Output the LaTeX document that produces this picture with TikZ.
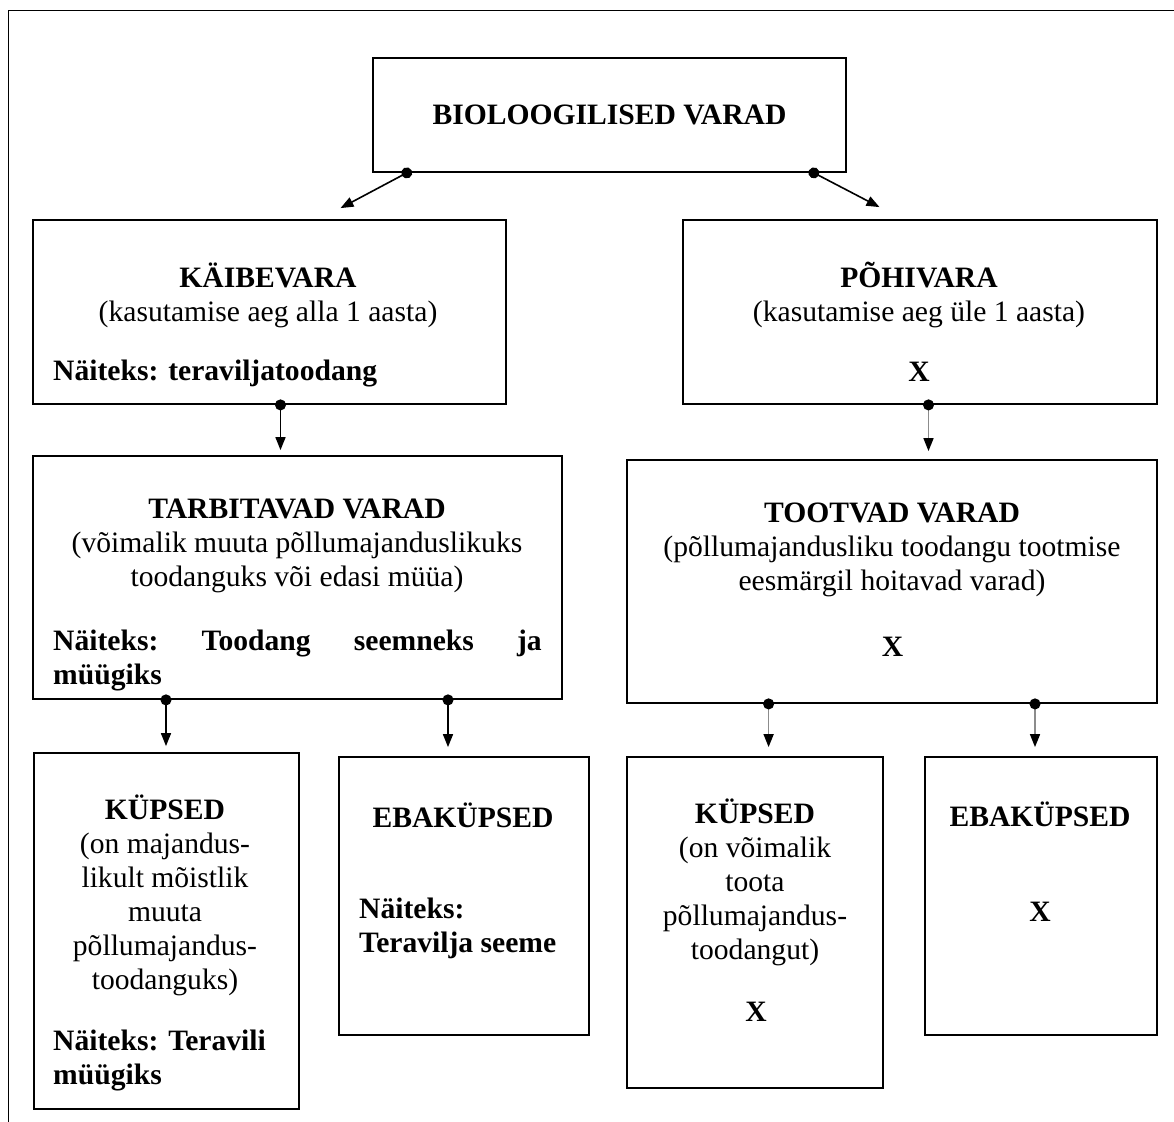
\documentclass[tikz,border=0pt]{standalone}
\usepackage{fontspec}
\setmainfont{Liberation Serif}
\usetikzlibrary{arrows.meta}
\tikzset{
  box/.style={draw, line width=1.8pt, inner sep=0pt},
  txt/.style={inner sep=0pt, align=center},
  link/.style={line width=1.6pt, {Circle[length=11pt]}-{Triangle[length=13pt,width=10pt]}, shorten <=-5.5pt},
  linkg/.style={link, draw=black!45, {Circle[length=11pt,color=black]}-{Triangle[length=13pt,width=10pt,color=black]}}
}
\begin{document}
\begin{tikzpicture}[x=1pt, y=-1pt, font=\fontsize{29.6}{34}\selectfont]
      \useasboundingbox (0,0) rectangle (1174,1121);
      \draw[line width=1.8pt] (8.4,1140) |- (1190,10.5);
      \node[box, minimum width=473, minimum height=114] (bio) at (609.5,115) {\textbf{BIOLOOGILISED VARAD}};
      \node[box, minimum width=473, minimum height=184] (kaibe) at (269.5,312) {};
      \node[box, minimum width=474, minimum height=184] (pohi) at (920,312) {};
      \node[box, minimum width=529, minimum height=243] (tarb) at (297.5,577.5) {};
      \node[box, minimum width=530, minimum height=243] (toot) at (892,581.5) {};
      \node[box, minimum width=265, minimum height=356] (kupsL) at (166.5,931) {};
      \node[box, minimum width=250, minimum height=278] (ebaL) at (464,896) {};
      \node[box, minimum width=256, minimum height=331] (kupsR) at (755,922.5) {};
      \node[box, minimum width=232, minimum height=278] (ebaR) at (1041,896) {};
      \node[txt] (kaibeT) at (268,295) {\textbf{KÄIBEVARA}\\(kasutamise aeg alla 1 aasta)};
      \node[txt, anchor=west] (kaibeN) at (53,373) {\textbf{Näiteks: teraviljatoodang}};
      \node[txt] (pohiT) at (919,295) {\textbf{PÕHIVARA}\\(kasutamise aeg üle 1 aasta)};
      \node[txt] (pohiX) at (919,372) {\textbf{X}};
      \node[txt] (tarbT) at (297,546) {\textbf{TARBITAVAD VARAD}\\(võimalik muuta põllumajanduslikuks\\toodanguks või edasi müüa)};
      \node[txt, align=left, text width=488.5, anchor=west] (tarbN) at (53,660)
        {\textbf{Näiteks:}\hfill\textbf{Toodang}\hfill\textbf{seemneks}\hfill\textbf{ja}\\\textbf{müügiks}};
      \node[txt] (tootT) at (892,550) {\textbf{TOOTVAD VARAD}\\(põllumajandusliku toodangu tootmise\\eesmärgil hoitavad varad)};
      \node[txt] (tootX) at (892.5,647) {\textbf{X}};
      \node[txt] (kupsLT) at (165,895) {\textbf{KÜPSED}\\(on majandus-\\likult mõistlik\\muuta\\põllumajandus-\\toodanguks)};
      \node[txt, align=left, anchor=west] (kupsLN) at (53,1060) {\textbf{Näiteks: Teravili}\\\textbf{müügiks}};
      \node[txt] (ebaLT) at (463,815) {\textbf{EBAKÜPSED}};
      \node[txt, align=left, anchor=west] (ebaLN) at (359,928) {\textbf{Näiteks:}\\\textbf{Teravilja seeme}};
      \node[txt] (kupsRT) at (755,882) {\textbf{KÜPSED}\\(on võimalik\\toota\\põllumajandus-\\toodangut)};
      \node[txt] (kupsRX) at (756,1012) {\textbf{X}};
      \node[txt] (ebaRT) at (1040,814) {\textbf{EBAKÜPSED}};
      \node[txt] (ebaRX) at (1040,912) {\textbf{X}};
      \begin{scope}
        \draw[link] ([xshift=34.6pt]bio.south west) -- ([xshift=71pt,yshift=11pt]kaibe.north);
        \draw[link] ([xshift=-33pt]bio.south east) -- ([xshift=-40.5pt,yshift=12pt]pohi.north);
        \draw[link, shorten >=5pt] ([xshift=11pt]kaibe.south) coordinate (k1) -- (k1 |- tarb.north);
        \draw[linkg, shorten >=8pt] ([xshift=8.5pt]pohi.south) coordinate (p1) -- (p1 |- toot.north);
        \draw[link, shorten >=6pt] ([xshift=-131.5pt]tarb.south) coordinate (t1) -- (t1 |- kupsL.north);
        \draw[link, shorten >=9pt] ([xshift=150.5pt]tarb.south) coordinate (t2) -- (t2 |- ebaL.north);
        \draw[linkg, shorten >=9pt] ([xshift=-123.4pt]toot.south) coordinate (o1) -- (o1 |- kupsR.north);
        \draw[linkg, shorten >=9pt] ([xshift=143pt]toot.south) coordinate (o2) -- (o2 |- ebaR.north);
      \end{scope}
    \end{tikzpicture}
\end{document}
